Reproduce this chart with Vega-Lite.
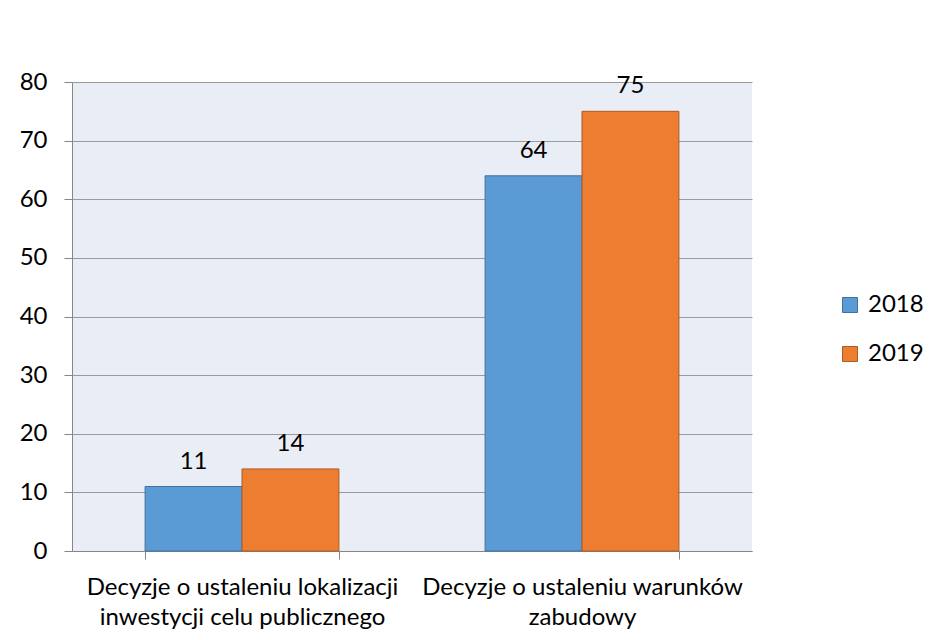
{
  "$schema": "https://vega.github.io/schema/vega-lite/v6.json",
  "autosize": "none",
  "width": 680,
  "height": 469,
  "padding": {"left": 72, "top": 82, "right": 181, "bottom": 89},
  "background": "#ffffff",
  "data": {
    "values": [
      {"kategoria": "Decyzje o ustaleniu lokalizacji|inwestycji celu publicznego", "rok": "2018", "liczba": 11},
      {"kategoria": "Decyzje o ustaleniu lokalizacji|inwestycji celu publicznego", "rok": "2019", "liczba": 14},
      {"kategoria": "Decyzje o ustaleniu warunków|zabudowy", "rok": "2018", "liczba": 64},
      {"kategoria": "Decyzje o ustaleniu warunków|zabudowy", "rok": "2019", "liczba": 75}
    ]
  },
  "encoding": {
    "x": {
      "field": "kategoria",
      "type": "nominal",
      "sort": null,
      "scale": {"paddingInner": 0.43, "paddingOuter": 0.215},
      "axis": {
        "title": null,
        "labelAngle": 0,
        "labelExpr": "split(datum.label, '|')",
        "labelLineHeight": 30,
        "labelFontSize": 24,
        "labelFont": "Lato",
        "labelColor": "#000000",
        "labelLimit": 0,
        "labelPadding": 16,
        "tickBand": "extent",
        "tickSize": 8,
        "tickColor": "#868686",
        "domainColor": "#868686",
        "labelBaseline": "top"
      }
    },
    "xOffset": {"field": "rok", "type": "nominal"},
    "y": {
      "field": "liczba",
      "type": "quantitative",
      "scale": {"domain": [0, 80], "nice": false},
      "axis": {
        "title": null,
        "values": [0, 10, 20, 30, 40, 50, 60, 70, 80],
        "labelFontSize": 24,
        "labelFont": "Lato",
        "labelColor": "#000000",
        "labelPadding": 17,
        "tickSize": 8,
        "tickColor": "#868686",
        "domainColor": "#868686",
        "gridColor": "#9a9a9a",
        "gridWidth": 1
      }
    }
  },
  "layer": [
    {
      "mark": {"type": "bar", "strokeWidth": 1},
      "encoding": {
        "color": {
          "field": "rok",
          "type": "nominal",
          "scale": {"domain": ["2018", "2019"], "range": ["#5B9BD5", "#ED7D31"]},
          "legend": {
            "title": null,
            "orient": "none",
            "legendX": 766,
            "legendY": 211,
            "symbolType": "square",
            "symbolSize": 225,
            "symbolStrokeWidth": 1,
            "symbolStrokeColor": "#41719C",
            "labelFontSize": 24,
            "labelFont": "Lato",
            "labelColor": "#000000",
            "rowPadding": 25,
            "labelOffset": 6
          }
        },
        "stroke": {
          "field": "rok",
          "type": "nominal",
          "scale": {"domain": ["2018", "2019"], "range": ["#41719C", "#AE5A21"]},
          "legend": null
        }
      }
    },
    {
      "mark": {"type": "text", "dy": -18, "baseline": "alphabetic", "fontSize": 24, "font": "Lato", "color": "#000000"},
      "encoding": {
        "text": {"field": "liczba", "type": "quantitative"}
      }
    }
  ],
  "config": {
    "view": {"fill": "#E9EDF5", "stroke": null}
  }
}
